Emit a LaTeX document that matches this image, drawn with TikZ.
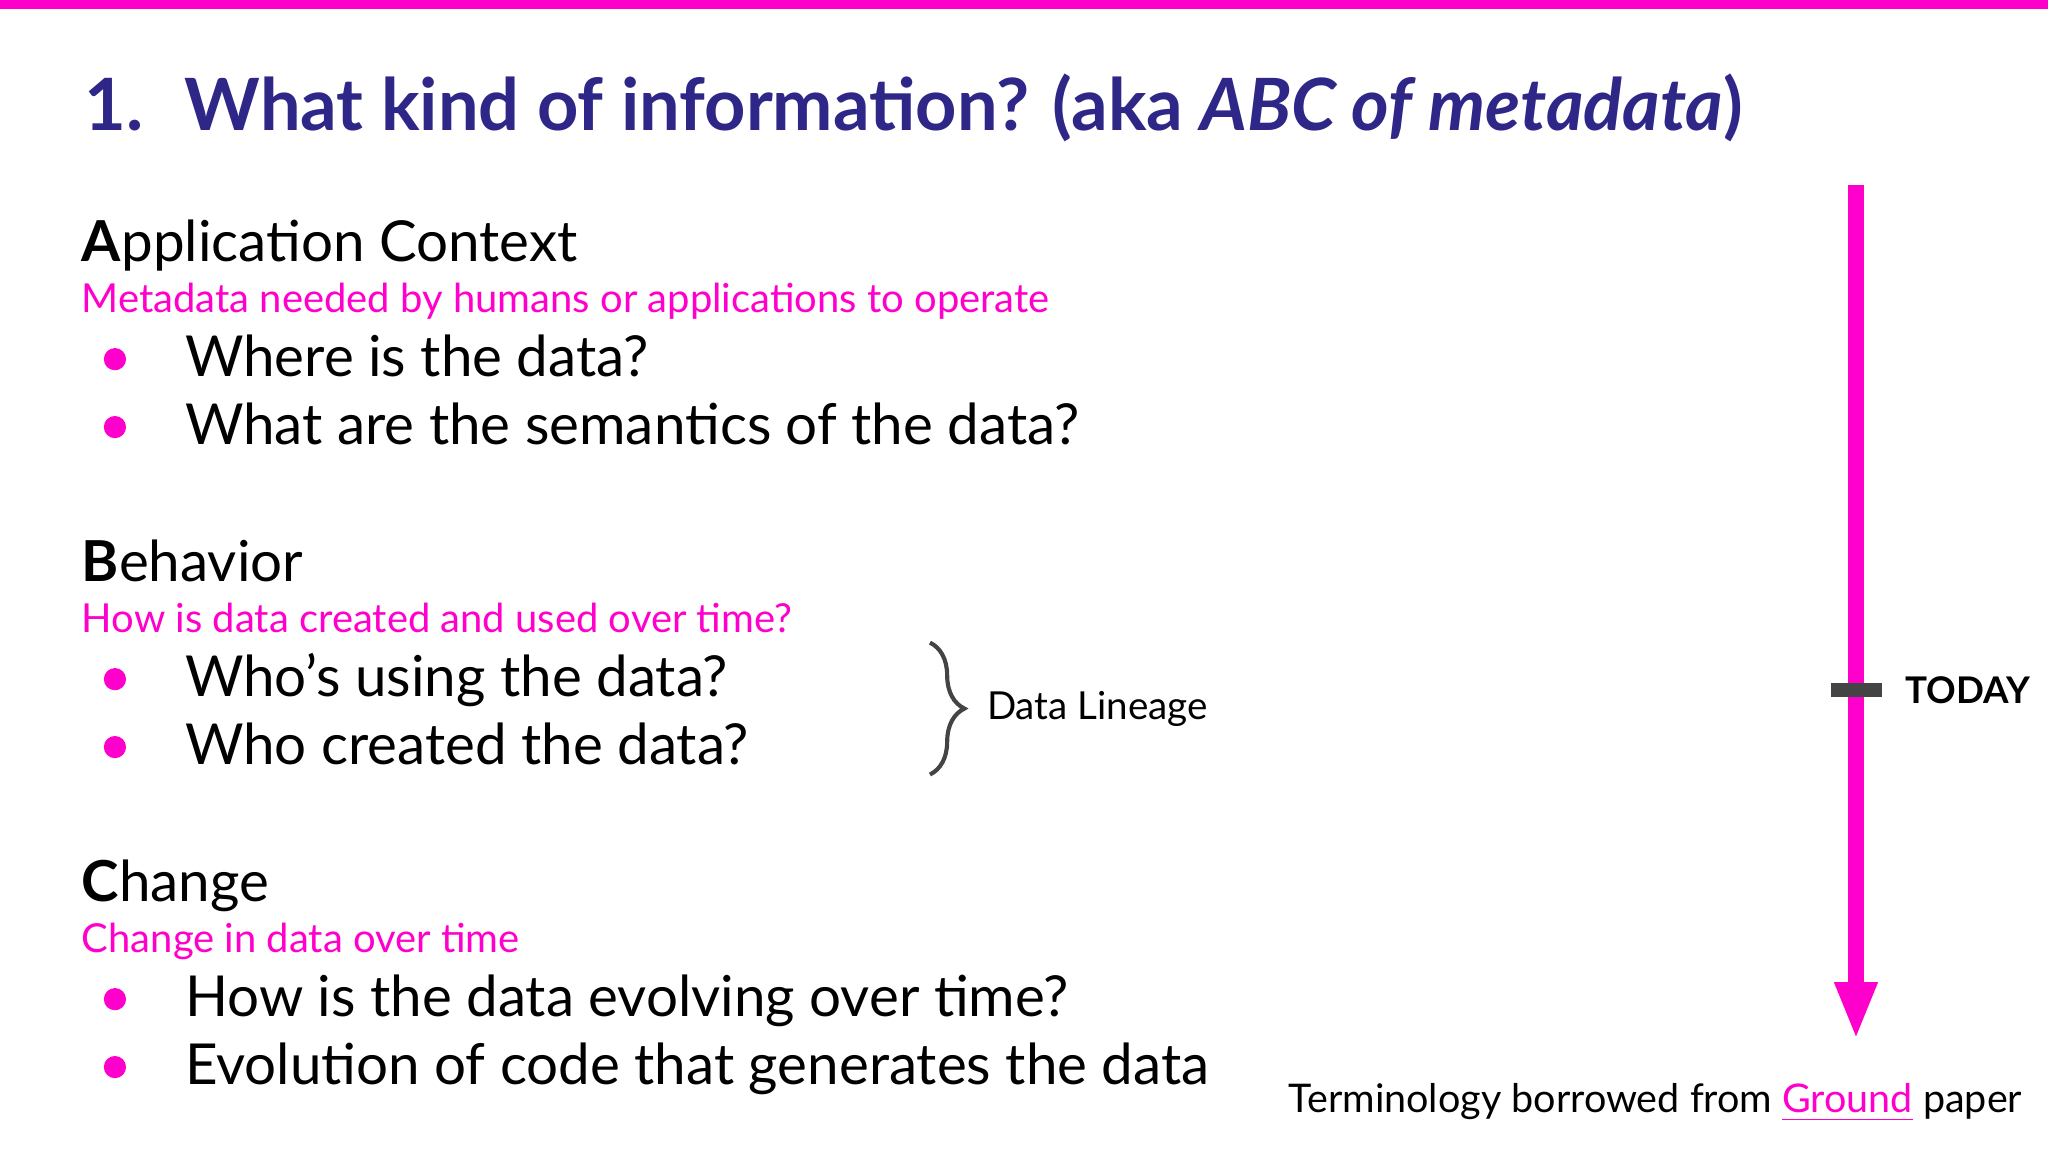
\documentclass[tikz,border=0pt]{standalone}
\usepackage{fontspec}
\setmainfont{Lato}
\usetikzlibrary{decorations.pathreplacing,arrows.meta}
\definecolor{mag}{HTML}{FF00CC}
\definecolor{ttl}{HTML}{2E2787}
\definecolor{tick}{HTML}{444444}
\tikzset{
  txt/.style={anchor=base west,inner sep=0pt,text=black},
  ttlfont/.style={txt,text=ttl,font=\fontsize{15.7}{18}\selectfont\bfseries},
  head/.style={txt,font=\fontsize{12.3}{15}\selectfont},
  sub/.style={txt,text=mag,font=\fontsize{8.7}{10}\selectfont},
  item/.style={txt,font=\fontsize{12.3}{14}\selectfont},
  dot/.style={fill=mag,draw=none},
}
\begin{document}
\begin{tikzpicture}[x=0.01cm,y=-0.01cm]
\useasboundingbox (0,0) rectangle (1568,882);
\fill[mag] (0,0) rectangle (1568,7);
\node[ttlfont] (title) at (64,100) {1.\hspace{0.25em} What kind of information? (aka \textit{ABC of metadata})};
% A
\node[head] (ha) at (62,200) {\textbf{A}pplication Context};
\node[sub] (sa) at (62,239) {Metadata needed by humans or applications to operate};
\node[item] (a1) at (141,288) {Where is the data?};
\node[item] (a2) at (141,340) {What are the semantics of the data?};
% B
\node[head] (hb) at (62,445) {\textbf{B}ehavior};
\node[sub] (sb) at (62,484) {How is data created and used over time?};
\node[item] (b1) at (141,533) {Who’s using the data?};
\node[item] (b2) at (141,585) {Who created the data?};
% C
\node[head] (hc) at (62,690) {\textbf{C}hange};
\node[sub] (sc) at (62,729) {Change in data over time};
\node[item] (c1) at (141,778) {How is the data evolving over time?};
\node[item] (c2) at (141,830) {Evolution of code that generates the data};
\foreach \y in {275,327,520,572,765,817} \fill[dot] (88,\y) circle (8.5);
% brace
\coordinate (bt) at (712,492);
\coordinate (bb) at (712,593);
\draw[tick,line width=0.9pt,decorate,decoration={brace,amplitude=7.5pt}] (bt) -- (bb);
\node[txt,font=\fontsize{8.4}{10}\selectfont] (dl) at (755,551) {Data Lineage};
% timeline
\coordinate (ts) at (1421,142);
\coordinate (te) at (1421,796);
\draw[mag,line width=3.5pt,-{Triangle[length=0.44cm,width=0.3cm]}] (ts) -- (te);
\coordinate (k1) at (1402,528);
\coordinate (k2) at (1441,528);
\draw[tick,line width=3pt] (k1) -- (k2);
\node[txt,font=\fontsize{8}{9}\selectfont\bfseries] (today) at (1458,539) {TODAY};
\node[txt,font=\fontsize{8.6}{11}\selectfont] (term) at (986,852) {Terminology borrowed from \textcolor{mag}{\underline{Ground}} paper};
\end{tikzpicture}
\end{document}
